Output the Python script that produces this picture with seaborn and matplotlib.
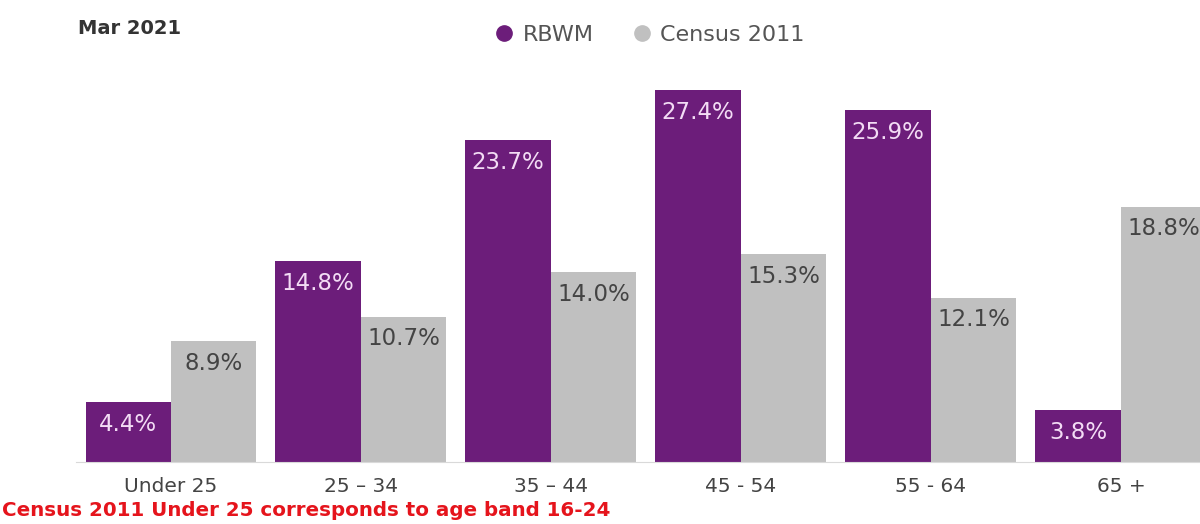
import pandas as pd
import numpy as np
import matplotlib
matplotlib.use("Agg")
import matplotlib.pyplot as plt
from matplotlib.lines import Line2D
import seaborn as sns

bands = ["Under 25", "25 \u2013 34", "35 \u2013 44", "45 - 54", "55 - 64", "65 +"]
rbwm = [4.4, 14.8, 23.7, 27.4, 25.9, 3.8]
census = [8.9, 10.7, 14.0, 15.3, 12.1, 18.8]
series = ["RBWM", "Census 2011"]
colors = {"RBWM": "#6c1d7a", "Census 2011": "#c0c0c0"}
label_colors = {"RBWM": "#f3dcf5", "Census 2011": "#444444"}

df = pd.DataFrame({
    "Band": bands * 2,
    "Pct": rbwm + census,
    "Series": ["RBWM"] * len(bands) + ["Census 2011"] * len(bands),
})

sns.set_style("white")
plt.rcParams["font.family"] = ["DejaVu Sans"]

fig = plt.figure(figsize=(12, 5.24), dpi=100)
ax = fig.add_axes([76 / 1200, 1 - 462 / 524, 1140 / 1200, 392 / 524])

sns.barplot(df, x="Band", y="Pct", hue="Series", order=bands, hue_order=series,
            palette=colors, width=0.9, gap=0, saturation=1, legend=False,
            linewidth=0, ax=ax)

ax.set_xlim(-0.5, len(bands) - 0.5)
ax.set_ylim(0, 28.87)

for cont, name in zip(ax.containers, series):
    for patch in cont:
        h = patch.get_height()
        ax.annotate(f"{h:.1f}%", (patch.get_x() + patch.get_width() / 2, h),
                    xytext=(0, -16), textcoords="offset points",
                    ha="center", va="center", fontsize=16.5, color=label_colors[name])

for side in ["top", "right", "left"]:
    ax.spines[side].set_visible(False)
ax.spines["bottom"].set_color("#d9d9d9")
ax.set_yticks([])
ax.set_xlabel("")
ax.set_ylabel("")
ax.tick_params(axis="x", which="major", length=0, pad=11, labelsize=14.5, labelcolor="#444444")
ax.set_xticks(np.arange(-0.5, len(bands), 1), minor=True)
ax.tick_params(axis="x", which="minor", length=9, color="#d9d9d9", width=1)

fig.text(78 / 1200, 1 - 28 / 524, "Mar 2021", fontsize=14, fontweight="bold",
         color="#333333", va="center", ha="left")

handles = [Line2D([], [], marker="o", linestyle="", markersize=11,
                  markerfacecolor=colors[s], markeredgecolor=colors[s]) for s in series]
fig.legend(handles, series, loc="center", bbox_to_anchor=(646 / 1200, 1 - 35 / 524),
           ncol=2, frameon=False, fontsize=16, labelcolor="#555555",
           handletextpad=0.1, columnspacing=1.4, handlelength=1.5)

fig.text(2 / 1200, 1 - 511 / 524, "Census 2011 Under 25 corresponds to age band 16-24",
         fontsize=14.3, fontweight="bold", color="#e5141c", va="center", ha="left")

fig.savefig("out.png", dpi=100)
